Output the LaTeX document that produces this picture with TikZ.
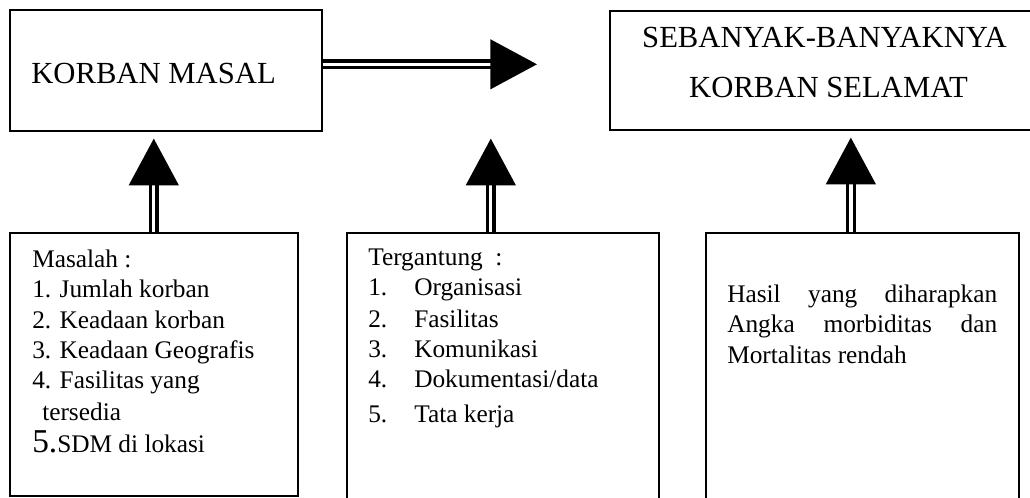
\documentclass[tikz,border=0pt]{standalone}
\usepackage{fontspec}
\setmainfont{Liberation Serif}
\usetikzlibrary{arrows.meta}
\begin{document}
\begin{tikzpicture}[x=0.75pt,y=-0.75pt,
  box/.style={draw, line width=1.2pt, inner sep=0pt, anchor=north west},
  big/.style={font=\fontsize{23}{27}\selectfont, inner sep=0pt, anchor=base},
  txt/.style={font=\fontsize{19}{23}\selectfont, inner sep=0pt, anchor=base west},
  flow/.style={draw, line width=2.5pt, double=white, double distance=2.5pt,
    -{Triangle[length=35pt,width=37pt]}}
]
\useasboundingbox (0,0) rectangle (1030,497);
\clip (0,0) rectangle (1030,497);

% top row
\node[box, minimum width=312*0.75pt, minimum height=121*0.75pt] (K) at (9,9) {};
\node[box, minimum width=440*0.75pt, minimum height=119*0.75pt] (S) at (609,10) {};
\node[big, anchor=base west] (kt) at (31,83) {KORBAN MASAL};
\node[big] (s1) at (824.5,47) {SEBANYAK-BANYAKNYA};
\node[big] (s2) at (828.5,97) {KORBAN SELAMAT};

% bottom row
\node[box, minimum width=288*0.75pt, minimum height=263*0.75pt] (A) at (9,232) {};
\node[box, minimum width=312*0.75pt, minimum height=290*0.75pt] (B) at (346,232) {};
\node[box, minimum width=313*0.75pt, minimum height=290*0.75pt] (C) at (705,232) {};

% problems
\node[txt] (a0) at (32,267) {Masalah :};
\node[txt] (a1) at (32,297) {1. Jumlah korban};
\node[txt] (a2) at (32,328) {2. Keadaan korban};
\node[txt] (a3) at (32,358) {3. Keadaan Geografis};
\node[txt] (a4) at (32,388) {4. Fasilitas yang};
\node[txt] (a5) at (42,420) {tersedia};
\node[txt] (a6) at (32,452) {{\fontsize{25}{30}\selectfont 5.}SDM di lokasi};

% dependencies
\node[txt] (b0) at (368,265) {Tergantung\ \ :};
\foreach \n/\y/\t in {1/295/Organisasi, 2/327/Fasilitas, 3/357/Komunikasi,
                       4/387/Dokumentasi\slash data, 5/422/Tata kerja}{
  \node[txt] (bn\n) at (368,\y) {\n.};
  \node[txt] (bt\n) at (414,\y) {\t};
}

% expected result
\node[txt] (c1) at (727,302) {\makebox[202.5pt][s]{Hasil yang diharapkan}};
\node[txt] (c2) at (727,332) {\makebox[202.5pt][s]{Angka morbiditas dan}};
\node[txt] (c3) at (727,363) {Mortalitas rendah};

% connectors
\coordinate (h0) at ([yshift=4.5pt]K.east);
\draw[flow, shorten >=54pt] (h0) -- (h0 -| S.west);
\draw[flow, shorten >=5.25pt] (A.north) -- (A.north |- K.south);
\coordinate (v2) at ([xshift=-9pt]B.north);
\draw[flow, shorten >=5.25pt] (v2) -- (v2 |- K.south);
\coordinate (v3) at ([xshift=-8.6pt]C.north);
\draw[flow, shorten >=5.25pt] (v3) -- (v3 |- S.south);
\end{tikzpicture}
\end{document}
